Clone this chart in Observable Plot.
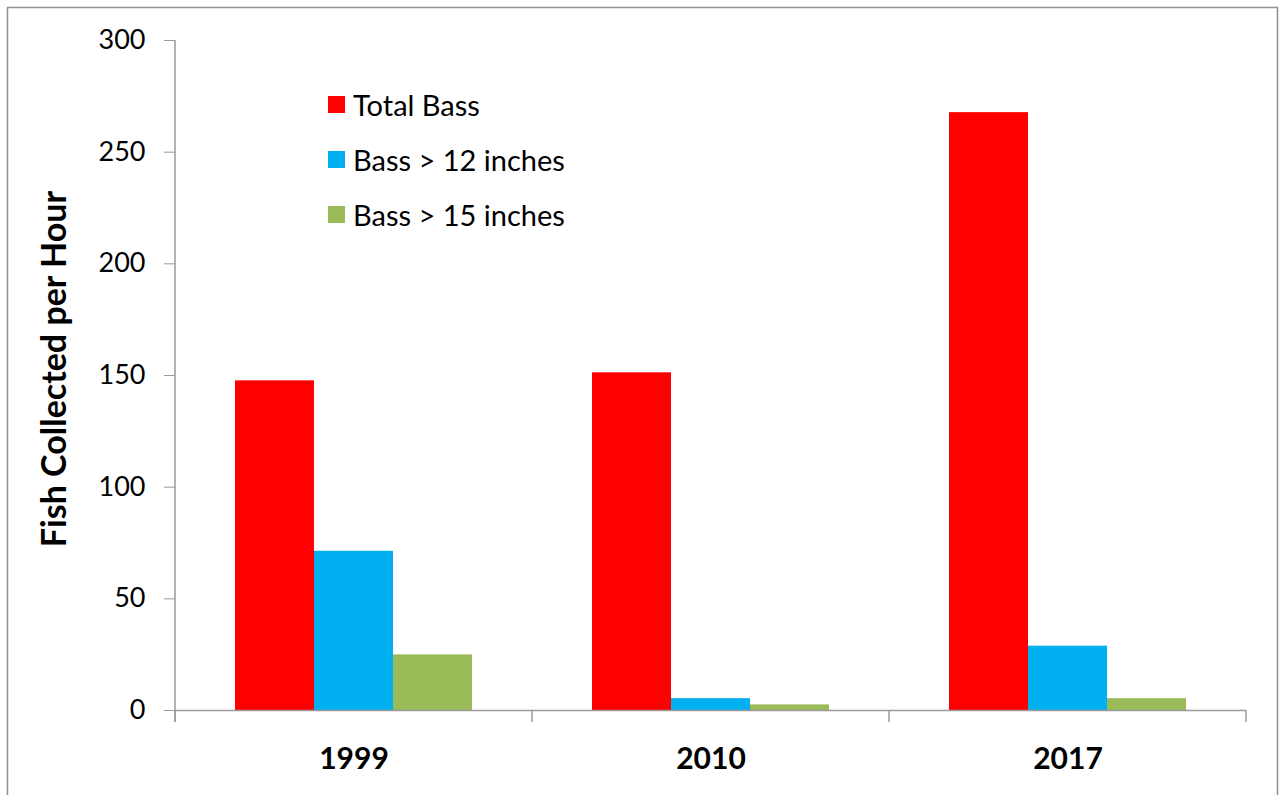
<!DOCTYPE html>
<html><head><meta charset="utf-8">
<script src="https://cdn.jsdelivr.net/npm/d3@7"></script>
<script src="https://cdn.jsdelivr.net/npm/@observablehq/plot@0.6"></script>
<style>
body{margin:0;background:#fff;font-family:Lato,"Open Sans",sans-serif;}
#wrap{position:relative;width:1279px;height:795px;overflow:hidden;}
#wrap svg{position:absolute;left:0;top:0;}
#legend{position:absolute;left:328px;top:91px;}
.item{display:flex;align-items:center;height:27px;margin-bottom:28px;font-size:29px;color:#000;white-space:nowrap;}
.sw{width:17px;height:17px;margin-right:8px;flex:none;}
</style></head><body><div id="wrap"></div>
<script>
const years = ["1999", "2010", "2017"];
const series = ["Total Bass", "Bass > 12 inches", "Bass > 15 inches"];
const totalBass = [147.6, 151.2, 267.7];
const bass12 = [71.3, 5.3, 28.8];
const bass15 = [24.9, 2.5, 5.3];
const colors = ["#FF0000", "#00B0F0", "#9BBB59"];
const yTicks = [0, 50, 100, 150, 200, 250, 300];
const yTitle = "Fish Collected per Hour";

const valuesBySeries = [totalBass, bass12, bass15];
const data = years.flatMap((yr, i) => series.map((s, j) => ({year: yr, series: s, value: valuesBySeries[j][i]})));

const axisGray = "#9a9a9a";
const chart = Plot.plot({
  width: 1279, height: 795,
  marginLeft: 174, marginTop: 40, marginRight: 33, marginBottom: 85,
  style: {fontFamily: "Lato, 'Open Sans', sans-serif", color: "#000", background: "transparent"},
  fx: {domain: years, padding: 0, label: null, axis: null},
  x: {domain: series, paddingInner: 0, paddingOuter: 0.75, axis: null},
  y: {domain: [0, 300], label: null, axis: null},
  color: {domain: series, range: colors},
  marks: [
    Plot.barY(data, {fx: "year", x: "series", y: "value", fill: "series"}),
    Plot.ruleY([0], {stroke: axisGray, strokeWidth: 1.5}),
    Plot.axisY({ticks: yTicks, tickSize: 11, tickPadding: 19, fontSize: 27, stroke: axisGray, label: null}),
    Plot.axisFx({anchor: "bottom", tickSize: 0, tickPadding: 37, fontSize: 30, fontWeight: "bold", label: null})
  ]
});

document.getElementById("wrap").appendChild(chart);

const svg = d3.select(chart);
const fx = chart.scale("fx"), y = chart.scale("y");
const y0 = y.apply(0), yTop = y.apply(300);
const left = fx.apply(years[0]);
const bw = fx.bandwidth;
// y axis line
svg.append("line").attr("x1", left).attr("x2", left).attr("y1", yTop).attr("y2", y0 + 12)
  .attr("stroke", axisGray).attr("stroke-width", 1.5);
// category boundary ticks
const edges = years.map(yr => fx.apply(yr)).concat([fx.apply(years[years.length - 1]) + bw]);
svg.append("g").selectAll("line").data(edges).join("line")
  .attr("x1", d => d).attr("x2", d => d).attr("y1", y0).attr("y2", y0 + 12)
  .attr("stroke", axisGray).attr("stroke-width", 1.5);
// y title
svg.append("text").attr("transform", `translate(52,${(yTop + y0) / 2 - 6}) rotate(-90)`)
  .attr("text-anchor", "middle").attr("dominant-baseline", "central")
  .attr("font-size", 34).attr("font-weight", "bold").attr("fill", "#000").text(yTitle);
// outer border
svg.append("rect").attr("x", 7.5).attr("y", 7.5).attr("width", 1270).attr("height", 800)
  .attr("fill", "none").attr("stroke", "#8f8f8f").attr("stroke-width", 1.5);

// legend
const legend = d3.select("#wrap").append("div").attr("id", "legend");
const items = legend.selectAll(".item").data(series).join("div").attr("class", "item");
items.append("div").attr("class", "sw").style("background", (d, i) => colors[i]);
items.append("span").text(d => d);
</script>
</body></html>
